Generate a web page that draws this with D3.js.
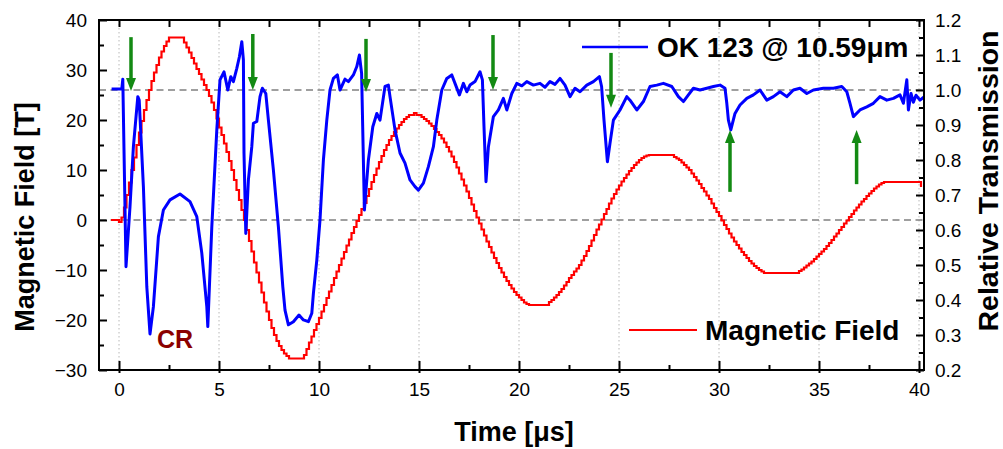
<!DOCTYPE html>
<html><head><meta charset="utf-8">
<script src="https://cdn.jsdelivr.net/npm/d3@7"></script>
<style>
html,body{margin:0;padding:0;background:#fff;}
svg{display:block;font-family:"Liberation Sans",Arial,Helvetica,sans-serif;}
</style></head>
<body>
<svg id="chart" width="1003" height="449"></svg>
<script>
// ---------------- data ----------------
const timeTicks = [0, 5, 10, 15, 20, 25, 30, 35, 40];
const fieldTicks = [-30, -20, -10, 0, 10, 20, 30, 40];
const transTicks = [0.2, 0.3, 0.4, 0.5, 0.6, 0.7, 0.8, 0.9, 1.0, 1.1, 1.2];

const fieldTime = [-0.4,
 0,0.125,0.25,0.375,0.5,0.625,0.75,0.875,1,1.125,1.25,1.375,1.5,1.625,1.75,1.875,
 2,2.125,2.25,2.375,2.5,2.625,2.75,2.875,3,3.125,3.25,3.375,3.5,3.625,3.75,3.875,
 4,4.125,4.25,4.375,4.5,4.625,4.75,4.875,5,5.125,5.25,5.375,5.5,5.625,5.75,5.875,
 6,6.125,6.25,6.375,6.5,6.625,6.75,6.875,7,7.125,7.25,7.375,7.5,7.625,7.75,7.875,
 8,8.125,8.25,8.375,8.5,8.625,8.75,8.875,9,9.125,9.25,9.375,9.5,9.625,9.75,9.875,
 10,10.125,10.25,10.375,10.5,10.625,10.75,10.875,11,11.125,11.25,11.375,11.5,11.625,11.75,11.875,
 12,12.125,12.25,12.375,12.5,12.625,12.75,12.875,13,13.125,13.25,13.375,13.5,13.625,13.75,13.875,
 14,14.125,14.25,14.375,14.5,14.625,14.75,14.875,15,15.125,15.25,15.375,15.5,15.625,15.75,15.875,
 16,16.125,16.25,16.375,16.5,16.625,16.75,16.875,17,17.125,17.25,17.375,17.5,17.625,17.75,17.875,
 18,18.125,18.25,18.375,18.5,18.625,18.75,18.875,19,19.125,19.25,19.375,19.5,19.625,19.75,19.875,
 20,20.125,20.25,20.375,20.5,20.625,20.75,20.875,21,21.125,21.25,21.375,21.5,21.625,21.75,21.875,
 22,22.125,22.25,22.375,22.5,22.625,22.75,22.875,23,23.125,23.25,23.375,23.5,23.625,23.75,23.875,
 24,24.125,24.25,24.375,24.5,24.625,24.75,24.875,25,25.125,25.25,25.375,25.5,25.625,25.75,25.875,
 26,26.125,26.25,26.375,26.5,26.625,26.75,26.875,27,27.125,27.25,27.375,27.5,27.625,27.75,27.875,
 28,28.125,28.25,28.375,28.5,28.625,28.75,28.875,29,29.125,29.25,29.375,29.5,29.625,29.75,29.875,
 30,30.125,30.25,30.375,30.5,30.625,30.75,30.875,31,31.125,31.25,31.375,31.5,31.625,31.75,31.875,
 32,32.125,32.25,32.375,32.5,32.625,32.75,32.875,33,33.125,33.25,33.375,33.5,33.625,33.75,33.875,
 34,34.125,34.25,34.375,34.5,34.625,34.75,34.875,35,35.125,35.25,35.375,35.5,35.625,35.75,35.875,
 36,36.125,36.25,36.375,36.5,36.625,36.75,36.875,37,37.125,37.25,37.375,37.5,37.625,37.75,37.875,
 38,38.125,38.25,38.375,38.5,38.625,38.75,38.875,39,39.125,39.25,39.375,39.5,39.625,39.75,39.875,
 40,40.1];
const fieldValue = [0,
 -0.4,0.5,2.5,5,7.5,10,12.5,15,17.5,19.8,22,24,26,27.8,29.5,31,
 32.5,33.7,34.8,35.7,36.5,36.5,36.5,36.5,36.5,36.5,35.5,34.5,33.5,32.4,31.3,30.2,
 29.2,28.1,27,26,24.8,23.5,22,20.3,18.5,17,15.3,13.6,11.8,10,8,6,
 4,2,0,-2,-4.2,-6.3,-8.5,-10.5,-12.5,-14.5,-16.5,-18.3,-20,-21.6,-23,-24.2,
 -25.2,-26,-26.7,-27.2,-27.7,-27.7,-27.7,-27.7,-27.7,-27.7,-27,-25.8,-24.5,-23.3,-22,-20.8,
 -19.6,-18.3,-17,-15.6,-14.3,-13,-11.6,-10.3,-9,-7.7,-6.4,-5.1,-3.9,-2.6,-1.4,-0.2,
 1,2.2,3.4,4.8,6.2,7.6,9,10.3,11.6,12.8,14,15,16,16.8,17.6,18.3,
 19,19.6,20.2,20.6,21,21,21.4,21,21,20.6,20.2,19.8,19.3,18.8,18.2,17.6,
 17,16.3,15.5,14.6,13.7,12.7,11.6,10.5,9.3,8.1,6.9,5.7,4.4,3.1,1.8,0.5,
 -0.7,-1.9,-3.1,-4.3,-5.4,-6.5,-7.6,-8.6,-9.6,-10.5,-11.4,-12.2,-13,-13.7,-14.4,-15,
 -15.5,-16,-16.5,-16.8,-17,-17,-17,-17,-17,-17,-17,-17,-16.4,-16,-15.5,-15,
 -14.4,-13.8,-13.1,-12.4,-11.6,-11,-10.3,-9.7,-9,-8.1,-7.2,-6.2,-5.2,-4.1,-3,-1.9,
 -0.9,0.1,1.2,2.2,3.3,4.3,5.2,6.1,6.9,7.7,8.4,9.1,9.8,10.4,11,11.5,
 12,12.4,12.7,12.9,13,13,13,13,13,13,13,13,13,13,12.6,12.3,
 12,11.5,11,10.5,10,9.3,8.6,7.9,7.2,6.4,5.7,4.9,4.2,3.3,2.4,1.6,
 0.8,-0.1,-1,-1.8,-2.7,-3.5,-4.3,-5,-5.7,-6.4,-7,-7.6,-8.2,-8.7,-9.2,-9.6,
 -10,-10.3,-10.6,-10.6,-10.6,-10.6,-10.6,-10.6,-10.6,-10.6,-10.6,-10.6,-10.6,-10.6,-10.6,-10.6,
 -10.2,-9.9,-9.5,-9.1,-8.7,-8.3,-7.8,-7.3,-6.8,-6.3,-5.8,-5.2,-4.6,-4,-3.3,-2.7,
 -2,-1.4,-0.7,-0.1,0.6,1.2,1.9,2.5,3.1,3.7,4.2,4.8,5.3,5.8,6.3,6.7,
 7.1,7.4,7.6,7.6,7.6,7.6,7.6,7.6,7.6,7.6,7.6,7.6,7.6,7.6,7.6,7.6,
 7.6,6.6];

// Relative transmission of OK 123 @ 10.59 um
const transTime = [-0.37,0.14,0.19,0.25,0.35,0.55,0.72,0.94,1.01,1.22,1.39,1.55,1.72,1.97,2.22,2.55,3.05,3.55,3.89,4.14,4.39,4.44,4.64,4.89,5.05,5.25,5.44,5.59,5.72,5.89,6.02,6.14,6.22,6.25,6.34,6.47,6.64,6.72,6.89,7.05,7.17,7.34,7.47,7.72,7.97,8.19,8.3,8.47,8.72,9.0,9.22,9.47,9.64,9.72,9.89,10.05,10.22,10.39,10.55,10.72,10.92,11.05,11.3,11.47,11.72,11.89,12.02,12.13,12.27,12.47,12.69,12.89,13.05,13.3,13.47,13.55,13.8,14.05,14.3,14.55,14.8,14.97,15.22,15.47,15.72,15.89,16.14,16.39,16.64,16.8,17.02,17.22,17.39,17.55,17.8,18.05,18.17,18.25,18.35,18.47,18.72,18.97,19.22,19.39,19.64,19.89,20.14,20.39,20.72,21.05,21.3,21.55,21.8,22.05,22.3,22.55,22.8,23.05,23.39,23.72,24.02,24.13,24.25,24.42,24.55,24.72,25.05,25.39,25.55,25.89,26.22,26.55,26.89,27.22,27.64,27.97,28.22,28.47,28.72,29.05,29.39,29.72,30.05,30.3,30.39,30.47,30.59,30.8,31.05,31.39,31.72,32.05,32.39,32.72,33.05,33.39,33.72,34.05,34.39,34.72,35.22,35.72,36.14,36.39,36.55,36.72,37.05,37.39,37.72,38.05,38.39,38.72,39.05,39.22,39.39,39.47,39.6,39.72,39.85,40.05,40.25];
const transValue = [1.003,1.003,1.031,0.829,0.495,0.667,0.838,0.981,0.971,0.724,0.438,0.303,0.381,0.581,0.657,0.686,0.703,0.681,0.638,0.534,0.381,0.324,0.609,0.886,1.029,1.052,1.0,1.038,1.024,1.062,1.095,1.138,1.086,0.82,0.59,0.743,0.838,0.905,0.91,0.981,1.005,0.99,0.914,0.771,0.609,0.438,0.371,0.329,0.338,0.357,0.343,0.338,0.362,0.419,0.514,0.629,0.8,0.914,1.0,1.033,1.043,1.0,1.031,1.024,1.043,1.067,1.1,1.048,0.657,0.8,0.895,0.933,0.914,1.01,1.014,0.981,0.886,0.82,0.791,0.743,0.724,0.714,0.734,0.781,0.838,0.914,1.0,1.033,1.043,1.019,0.986,1.019,0.995,1.014,1.024,1.052,1.029,0.895,0.738,0.838,0.924,0.943,0.976,0.943,0.99,1.019,1.012,1.024,1.014,1.019,1.008,1.024,1.016,1.033,1.014,0.981,1.005,0.995,1.014,1.024,1.038,1.01,0.914,0.795,0.848,0.914,0.943,0.981,0.971,0.943,0.967,1.01,1.014,1.019,1.01,0.981,0.967,0.986,1.005,1.0,1.005,1.01,1.014,1.005,0.962,0.914,0.886,0.933,0.957,0.976,0.986,1.0,0.971,0.981,0.995,0.981,1.0,1.005,0.99,1.0,1.005,1.005,1.01,0.995,0.962,0.924,0.943,0.952,0.962,0.981,0.971,0.976,0.986,0.962,1.029,0.943,0.99,0.965,0.985,0.971,0.98];

// Reference levels (dashed): field 0 T and transmission 1.0
const fieldRefLevels = [0];
const transRefLevels = [1.0];

// Arrows (time, start transmission, tip transmission)
const arrowTime = [0.6, 6.69, 12.35, 18.7, 24.6, 30.55, 36.88];
const arrowFrom = [1.151, 1.16, 1.146, 1.157, 1.106, 0.709, 0.731];
const arrowTo   = [0.997, 1.0, 0.994, 1.0, 0.949, 0.886, 0.886];

// ---------------- chart ----------------
const svg = d3.select("#chart");
const L = 99, R = 924, T = 20, B = 370;
const x = d3.scaleLinear().domain([-1, 40.25]).range([L, R]);
const yF = d3.scaleLinear().domain([-30, 40]).range([B, T]);
const yT = d3.scaleLinear().domain([0.2, 1.2]).range([B, T]);

const FONT = '"Liberation Sans", Arial, Helvetica, sans-serif';

// vertical dotted grid
svg.append("g").selectAll("line").data(timeTicks).join("line")
  .attr("x1", d => x(d)).attr("x2", d => x(d))
  .attr("y1", T).attr("y2", B)
  .attr("stroke", "#b8b8b8").attr("stroke-width", 1)
  .attr("stroke-dasharray", "1.5,2.5");

// dashed reference lines
const refG = svg.append("g").attr("stroke", "#808080").attr("stroke-width", 1.6).attr("stroke-dasharray", "7,4.5");
fieldRefLevels.forEach(v => refG.append("line").attr("x1", L).attr("x2", R).attr("y1", yF(v)).attr("y2", yF(v)));
transRefLevels.forEach(v => refG.append("line").attr("x1", L).attr("x2", R).attr("y1", yT(v)).attr("y2", yT(v)));

// magnetic field (stepped)
const fieldData = fieldTime.map((t, i) => [t, fieldValue[i]]);
svg.append("path").datum(fieldData)
  .attr("fill", "none").attr("stroke", "#ff0000").attr("stroke-width", 2.2)
  .attr("stroke-linejoin", "miter")
  .attr("d", d3.line().x(d => x(d[0])).y(d => yF(d[1])).curve(d3.curveStepAfter));

// transmission
const transData = transTime.map((t, i) => [t, transValue[i]]);
svg.append("path").datum(transData)
  .attr("fill", "none").attr("stroke", "#0000ff").attr("stroke-width", 3)
  .attr("stroke-linejoin", "round")
  .attr("d", d3.line().x(d => x(d[0])).y(d => yT(d[1])));

// arrows
const green = "#138a13";
const arrowG = svg.append("g");
arrowTime.forEach((t, i) => {
  const ax = x(t), y0 = yT(arrowFrom[i]), y1 = yT(arrowTo[i]);
  const dir = y1 > y0 ? 1 : -1;
  const headH = 13, headW = 5;
  arrowG.append("line").attr("x1", ax).attr("x2", ax)
    .attr("y1", y0).attr("y2", y1 - dir * headH + dir * 1)
    .attr("stroke", green).attr("stroke-width", 3.5);
  arrowG.append("path")
    .attr("d", `M${ax - headW},${y1 - dir * headH} L${ax + headW},${y1 - dir * headH} L${ax},${y1} Z`)
    .attr("fill", green);
});

// frame
svg.append("rect").attr("x", L).attr("y", T).attr("width", R - L).attr("height", B - T)
  .attr("fill", "none").attr("stroke", "#000").attr("stroke-width", 2);

// axes
function styleAxis(g) {
  g.select(".domain").remove();
  g.selectAll(".tick line").attr("stroke", "#000").attr("stroke-width", 2);
  g.selectAll(".tick text").attr("font-family", FONT).attr("font-size", 19).attr("fill", "#000");
}
const gB = svg.append("g").attr("transform", `translate(0,${B})`)
  .call(d3.axisBottom(x).tickValues(timeTicks).tickFormat(d3.format("d")).tickSizeInner(-9).tickSizeOuter(0).tickPadding(13));
styleAxis(gB);
gB.selectAll(".tick line").attr("y1", 3);
const timeMinor = [2.5, 7.5, 12.5, 17.5, 22.5, 27.5, 32.5, 37.5];
const gBm = svg.append("g").attr("transform", `translate(0,${B})`)
  .call(d3.axisBottom(x).tickValues(timeMinor).tickFormat("").tickSizeInner(-5).tickSizeOuter(0));
styleAxis(gBm);
const gTop = svg.append("g").attr("transform", `translate(0,${T})`)
  .call(d3.axisTop(x).tickValues(timeTicks.concat(timeMinor)).tickFormat("").tickSizeInner(-7).tickSizeOuter(0));
styleAxis(gTop);

const gL = svg.append("g").attr("transform", `translate(${L},0)`)
  .call(d3.axisLeft(yF).tickValues(fieldTicks).tickFormat(d3.format("d")).tickSizeInner(-8).tickSizeOuter(0).tickPadding(12));
styleAxis(gL);
const fieldMinor = [-25, -15, -5, 5, 15, 25, 35];
const gLm = svg.append("g").attr("transform", `translate(${L},0)`)
  .call(d3.axisLeft(yF).tickValues(fieldMinor).tickFormat("").tickSizeInner(-5).tickSizeOuter(0));
styleAxis(gLm);

const gR = svg.append("g").attr("transform", `translate(${R},0)`)
  .call(d3.axisRight(yT).tickValues(transTicks).tickFormat(d3.format(".1f")).tickSizeInner(-8).tickSizeOuter(0).tickPadding(11));
styleAxis(gR);
const transMinor = [0.25, 0.35, 0.45, 0.55, 0.65, 0.75, 0.85, 0.95, 1.05, 1.15];
const gRm = svg.append("g").attr("transform", `translate(${R},0)`)
  .call(d3.axisRight(yT).tickValues(transMinor).tickFormat("").tickSizeInner(-5).tickSizeOuter(0));
styleAxis(gRm);

// axis titles
svg.append("text").attr("transform", "translate(34,217) rotate(-90)")
  .attr("text-anchor", "middle").attr("font-family", FONT).attr("font-weight", "bold")
  .attr("font-size", 27).text("Magnetic Field [T]");
svg.append("text").attr("transform", "translate(998,181) rotate(-90)")
  .attr("text-anchor", "middle").attr("font-family", FONT).attr("font-weight", "bold")
  .attr("font-size", 28.5).text("Relative Transmission");
svg.append("text").attr("x", 514).attr("y", 441)
  .attr("text-anchor", "middle").attr("font-family", FONT).attr("font-weight", "bold")
  .attr("font-size", 27).text("Time [\u03bcs]");

// legend
svg.append("line").attr("x1", 582).attr("x2", 648).attr("y1", 47).attr("y2", 47)
  .attr("stroke", "#0000ff").attr("stroke-width", 2.6);
svg.append("text").attr("x", 657).attr("y", 57).attr("font-family", FONT).attr("font-weight", "bold")
  .attr("font-size", 28).text("OK 123 @ 10.59\u03bcm");
svg.append("line").attr("x1", 629).attr("x2", 697).attr("y1", 330).attr("y2", 330)
  .attr("stroke", "#ff0000").attr("stroke-width", 2.2);
svg.append("text").attr("x", 705).attr("y", 340).attr("font-family", FONT).attr("font-weight", "bold")
  .attr("font-size", 28).text("Magnetic Field");

// CR label
svg.append("text").attr("x", 157).attr("y", 348).attr("font-family", FONT).attr("font-weight", "bold")
  .attr("font-size", 25).attr("fill", "#8b0000").text("CR");
</script>
</body></html>
